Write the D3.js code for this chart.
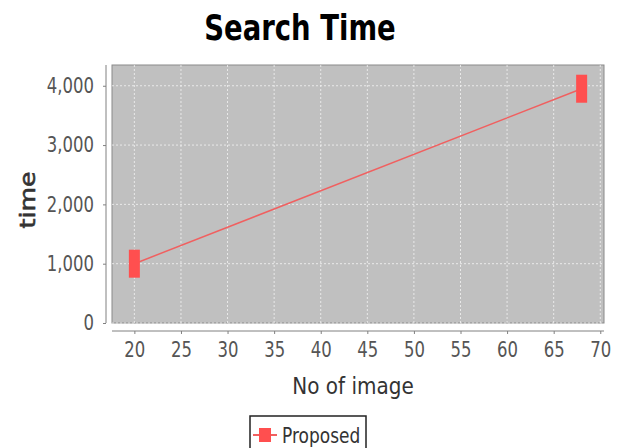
<!DOCTYPE html>
<html>
<head>
<meta charset="utf-8">
<script src="https://cdn.jsdelivr.net/npm/d3@7"></script>
<style>
  body { margin: 0; background: #fff; }
  text { font-family: "DejaVu Sans", sans-serif; }
</style>
</head>
<body>
<div id="chart"></div>
<script>
const images = [20, 68];
const proposed = [1000, 3950];
const xTicks = [20, 25, 30, 35, 40, 45, 50, 55, 60, 65, 70];
const yTicks = [0, 1000, 2000, 3000, 4000];

const width = 622;
const height = 448;
const plot = { left: 112, right: 604, top: 65, bottom: 323 };
// the source picture is stretched vertically, so text is too
const stretch = 1.3;

const svg = d3.select('#chart')
    .append('svg')
    .attr('width', width)
    .attr('height', height);

const x = d3.scaleLinear().domain([17.6, 70.4]).range([plot.left, plot.right]);
const y = d3.scaleLinear().domain([0, 4350]).range([plot.bottom, plot.top]);

// places a text at (px,py) and stretches it vertically around its baseline
function putText(g, px, py, str, size, sy) {
    return g.append("text")
        .attr("transform", `translate(${px},${py}) scale(1,${sy})`)
        .style("font-size", size + "px")
        .text(str);
}

// plot background
svg.append("rect")
    .attr("x", plot.left)
    .attr("y", plot.top)
    .attr("width", plot.right - plot.left)
    .attr("height", plot.bottom - plot.top)
    .attr("fill", "#c0c0c0")
    .attr("stroke", "#8a8a8a")
    .attr("stroke-width", 1);

// grid
svg.append("g").selectAll("line")
    .data(xTicks)
    .enter().append("line")
    .attr("x1", d => x(d)).attr("x2", d => x(d))
    .attr("y1", plot.top).attr("y2", plot.bottom)
    .attr("stroke", "#f4f4f4")
    .attr("stroke-width", 0.8)
    .attr("stroke-dasharray", "2,2");

svg.append("g").selectAll("line")
    .data(yTicks)
    .enter().append("line")
    .attr("x1", plot.left).attr("x2", plot.right)
    .attr("y1", d => y(d)).attr("y2", d => y(d))
    .attr("stroke", "#f4f4f4")
    .attr("stroke-width", 0.8)
    .attr("stroke-dasharray", "2,2");

// axes, offset from the plot like JFreeChart
const xAxis = svg.append("g")
    .attr("transform", `translate(0,${plot.bottom + 8})`)
    .call(d3.axisBottom(x).tickValues(xTicks).tickSize(3).tickPadding(5.5).tickSizeOuter(0));

const yAxis = svg.append("g")
    .attr("transform", `translate(${plot.left - 6},0)`)
    .call(d3.axisLeft(y).tickValues(yTicks).tickSize(3).tickPadding(9).tickSizeOuter(0)
        .tickFormat(d3.format(",")));

[xAxis, yAxis].forEach(g => {
    g.select(".domain").attr("stroke", "#808080");
    g.selectAll(".tick line").attr("stroke", "#808080");
    g.selectAll(".tick text")
        .attr("fill", "#555")
        .attr("transform", `scale(1,${stretch})`)
        .style("font-size", "16.5px");
});
xAxis.select(".domain").attr("d", `M${plot.left},0H${plot.right}`);
yAxis.select(".domain").attr("d", `M0,${plot.top}V${plot.bottom}`);

// series
const line = d3.line()
    .x((d, i) => x(images[i]))
    .y(d => y(d));

svg.append("path")
    .datum(proposed)
    .attr("d", line)
    .attr("fill", "none")
    .attr("stroke", "#f06060")
    .attr("stroke-width", 1.5);

svg.append("g").selectAll("rect")
    .data(proposed)
    .enter().append("rect")
    .attr("x", (d, i) => x(images[i]) - 5.5)
    .attr("y", d => y(d) - 14)
    .attr("width", 11)
    .attr("height", 28)
    .attr("fill", "#ff4f4f");

// titles
putText(svg, 300, 40, "Search Time", 27.5, stretch)
    .attr("text-anchor", "middle")
    .attr("font-weight", "bold")
    .attr("fill", "#000");

putText(svg, 353, 394, "No of image", 20, 1.15)
    .attr("text-anchor", "middle")
    .attr("fill", "#333");

svg.append("text")
    .attr("transform", `translate(35,200) rotate(-90) scale(1.2,1)`)
    .attr("text-anchor", "middle")
    .style("font-size", "21px")
    .attr("fill", "#333")
    .attr("stroke", "#333")
    .attr("stroke-width", 0.6)
    .text("time");

// legend
const legend = svg.append("g")
    .attr("transform", "translate(250,416)");

legend.append("rect")
    .attr("x", 0).attr("y", 0)
    .attr("width", 116).attr("height", 40)
    .attr("fill", "#fff")
    .attr("stroke", "#222")
    .attr("stroke-width", 1.5);

legend.append("line")
    .attr("x1", 3).attr("x2", 27)
    .attr("y1", 19).attr("y2", 19)
    .attr("stroke", "#f06060")
    .attr("stroke-width", 2);

legend.append("rect")
    .attr("x", 9).attr("y", 12)
    .attr("width", 12).attr("height", 14)
    .attr("fill", "#ff4f4f");

putText(legend, 32, 27, "Proposed", 17, 1.25)
    .attr("fill", "#333");
</script>
</body>
</html>
